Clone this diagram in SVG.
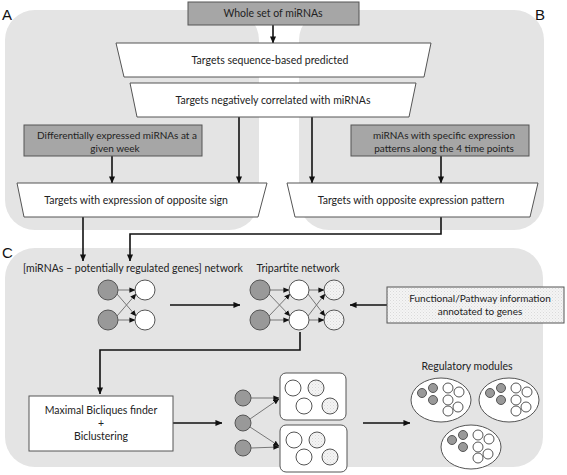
<svg xmlns="http://www.w3.org/2000/svg" width="567" height="475" viewBox="0 0 567 475">
<defs>
<style>
.panel{fill:#e4e4e4;stroke:none}
.gbox{fill:#a6a6a6;stroke:#555;stroke-width:1}
.wbox{fill:#fff;stroke:#555;stroke-width:1}
.t{font-family:Lato,"Open Sans",sans-serif;font-size:10.5px;fill:#222;text-anchor:middle}
.ts{font-size:10px}
.lbl{font-family:"Liberation Sans",Arial,sans-serif;font-size:15px;fill:#111}
.con{fill:none;stroke:#111;stroke-width:1.6}
.edge{fill:none;stroke:#777;stroke-width:1}
.gc{fill:#999;stroke:#555;stroke-width:1}
.wc{fill:#fff;stroke:#555;stroke-width:1}
.hc{fill:url(#hatch);stroke:#555;stroke-width:1}
</style>
<pattern id="hatch" width="3" height="3" patternUnits="userSpaceOnUse">
<rect width="3" height="3" fill="#f4f4f4"/>
<rect width="1" height="1" fill="#dadada"/>
<rect x="1.5" y="1.5" width="1" height="1" fill="#e2e2e2"/>
</pattern>
<marker id="arr" viewBox="0 0 8 8" refX="7.5" refY="4" markerWidth="7" markerHeight="7" markerUnits="userSpaceOnUse" orient="auto">
<path d="M0,0.5 L8,4 L0,7.5 z" fill="#111"/>
</marker>
<marker id="arrs" viewBox="0 0 8 8" refX="7.5" refY="4" markerWidth="6" markerHeight="6" markerUnits="userSpaceOnUse" orient="auto">
<path d="M0,0.5 L8,4 L0,7.5 z" fill="#111"/>
</marker>
<g id="module">
<ellipse class="wc" cx="0" cy="0" rx="30" ry="22"/>
<circle class="gc" cx="-19" cy="-7" r="4.5"/><circle class="gc" cx="-8" cy="-12" r="4.5"/><circle class="gc" cx="-8" cy="0" r="4.5"/>
<circle class="wc" cx="7" cy="-12" r="5"/><circle class="wc" cx="18" cy="-8" r="5"/><circle class="wc" cx="7" cy="0" r="5"/><circle class="wc" cx="17" cy="7" r="5"/><circle class="wc" cx="7" cy="11" r="5"/>
</g>
</defs>

<g id="panels">
<rect class="panel" x="5" y="10" width="254" height="220" rx="30"/>
<rect class="panel" x="299" y="10" width="245" height="220" rx="30"/>
<rect class="panel" x="5" y="248" width="538" height="219" rx="30"/>
<text class="lbl" x="2" y="20">A</text>
<text class="lbl" x="535" y="20">B</text>
<text class="lbl" x="2" y="258">C</text>
</g>

<g id="connectors">
<line class="con" x1="273" y1="25" x2="273" y2="43" marker-end="url(#arr)"/>
<line class="con" x1="239" y1="117" x2="239" y2="183" marker-end="url(#arr)"/>
<line class="con" x1="312" y1="117" x2="312" y2="183" marker-end="url(#arr)"/>
<line class="con" x1="112" y1="156" x2="112" y2="183" marker-end="url(#arr)"/>
<line class="con" x1="441" y1="156" x2="441" y2="183" marker-end="url(#arr)"/>
<line class="con" x1="83" y1="217" x2="83" y2="261" marker-end="url(#arr)"/>
<polyline class="con" points="441,217 441,234 130,234 130,261" marker-end="url(#arr)"/>
<line class="con" x1="170" y1="305" x2="240" y2="305" marker-end="url(#arr)"/>
<line class="con" x1="387" y1="305" x2="350" y2="305" marker-end="url(#arr)"/>
<polyline class="con" points="300,332 300,350 100,350 100,394" marker-end="url(#arr)"/>
<line class="con" x1="173" y1="423" x2="222" y2="423" marker-end="url(#arr)"/>
<line class="con" x1="363" y1="423" x2="410" y2="423" marker-end="url(#arr)"/>
</g>

<g id="n-whole">
<rect class="gbox" x="188" y="2" width="171" height="23"/>
<text class="t" x="273" y="17">Whole set of miRNAs</text>
</g>
<g id="n-seq">
<polygon class="wbox" points="116,43 431,43 424,77 124,77"/>
<text class="t" x="270" y="64">Targets sequence-based predicted</text>
</g>
<g id="n-neg">
<polygon class="wbox" points="130,83 416,83 409,117 137,117"/>
<text class="t" x="273" y="104">Targets negatively correlated with miRNAs</text>
</g>
<g id="n-diff">
<rect class="gbox" x="24" y="125" width="178" height="31"/>
<text class="t ts" x="117" y="139">Differentially expressed miRNAs at a</text>
<text class="t ts" x="115" y="152">given week</text>
</g>
<g id="n-spec">
<rect class="gbox" x="351" y="125" width="178" height="31"/>
<text class="t ts" x="444" y="139">miRNAs with specific expression</text>
<text class="t ts" x="444" y="152">patterns along the 4 time points</text>
</g>
<g id="n-sign">
<polygon class="wbox" points="17,183 267,183 258,217 24,217"/>
<text class="t" x="136" y="204">Targets with expression of opposite sign</text>
</g>
<g id="n-pattern">
<polygon class="wbox" points="287,183 538,183 530,217 295,217"/>
<text class="t" x="411" y="204">Targets with opposite expression pattern</text>
</g>

<g id="n-net1">
<text class="t" x="133" y="272">[miRNAs – potentially regulated genes] network</text>
<line class="edge" x1="118" y1="290" x2="135" y2="290" marker-end="url(#arrs)"/>
<line class="edge" x1="118" y1="320" x2="135" y2="320" marker-end="url(#arrs)"/>
<line class="edge" x1="117" y1="294" x2="136" y2="316" marker-end="url(#arrs)"/>
<line class="edge" x1="117" y1="316" x2="136" y2="294" marker-end="url(#arrs)"/>
<circle class="gc" cx="108" cy="290" r="10"/>
<circle class="gc" cx="108" cy="320" r="10"/>
<circle class="wc" cx="145" cy="290" r="10"/>
<circle class="wc" cx="145" cy="320" r="10"/>
</g>

<g id="n-net2">
<text class="t" x="298" y="272">Tripartite network</text>
<line class="edge" x1="270" y1="290" x2="289" y2="290" marker-end="url(#arrs)"/>
<line class="edge" x1="270" y1="320" x2="289" y2="320" marker-end="url(#arrs)"/>
<line class="edge" x1="269" y1="294" x2="290" y2="316" marker-end="url(#arrs)"/>
<line class="edge" x1="269" y1="316" x2="290" y2="294" marker-end="url(#arrs)"/>
<line class="edge" x1="309" y1="290" x2="324" y2="290" marker-end="url(#arrs)"/>
<line class="edge" x1="309" y1="320" x2="324" y2="320" marker-end="url(#arrs)"/>
<line class="edge" x1="308" y1="294" x2="325" y2="316" marker-end="url(#arrs)"/>
<line class="edge" x1="308" y1="316" x2="325" y2="294" marker-end="url(#arrs)"/>
<circle class="gc" cx="260" cy="290" r="10"/>
<circle class="gc" cx="260" cy="320" r="10"/>
<circle class="wc" cx="299" cy="290" r="10"/>
<circle class="wc" cx="299" cy="320" r="10"/>
<circle class="hc" cx="334" cy="290" r="10"/>
<circle class="hc" cx="334" cy="320" r="10"/>
</g>

<g id="n-func">
<rect x="387" y="287" width="177" height="36" fill="url(#hatch)" stroke="#555" stroke-width="1"/>
<text class="t ts" x="480" y="302">Functional/Pathway information</text>
<text class="t ts" x="480" y="315">annotated to genes</text>
</g>

<g id="n-biclique">
<rect class="wbox" x="29" y="396" width="144" height="55"/>
<text class="t" x="101" y="414">Maximal Bicliques finder</text>
<text class="t" x="101" y="427">+</text>
<text class="t" x="101" y="440">Biclustering</text>
</g>

<g id="n-bic-out">
<line class="edge" x1="251" y1="398" x2="279" y2="398" marker-end="url(#arrs)"/>
<line class="edge" x1="250" y1="419" x2="279" y2="399" marker-end="url(#arrs)"/>
<line class="edge" x1="250" y1="427" x2="279" y2="446" marker-end="url(#arrs)"/>
<line class="edge" x1="251" y1="448" x2="279" y2="447" marker-end="url(#arrs)"/>
<circle class="gc" cx="243" cy="398" r="8"/>
<circle class="gc" cx="243" cy="423" r="8"/>
<circle class="gc" cx="243" cy="448" r="8"/>
<rect class="wbox" x="280" y="373" width="66" height="47" rx="6"/>
<circle class="wc" cx="293" cy="388" r="8"/>
<circle class="hc" cx="316" cy="388" r="8"/>
<circle class="wc" cx="304" cy="406" r="8"/>
<circle class="hc" cx="330" cy="406" r="8"/>
<rect class="wbox" x="280" y="425" width="67" height="47" rx="6"/>
<circle class="wc" cx="294" cy="440" r="8"/>
<circle class="hc" cx="317" cy="440" r="8"/>
<circle class="wc" cx="304" cy="457" r="8"/>
<circle class="hc" cx="330" cy="457" r="8"/>
</g>

<g id="n-modules">
<text class="t" x="467" y="370">Regulatory modules</text>
<use href="#module" x="441" y="400"/>
<use href="#module" x="509" y="400"/>
<use href="#module" x="471" y="447"/>
</g>
</svg>
